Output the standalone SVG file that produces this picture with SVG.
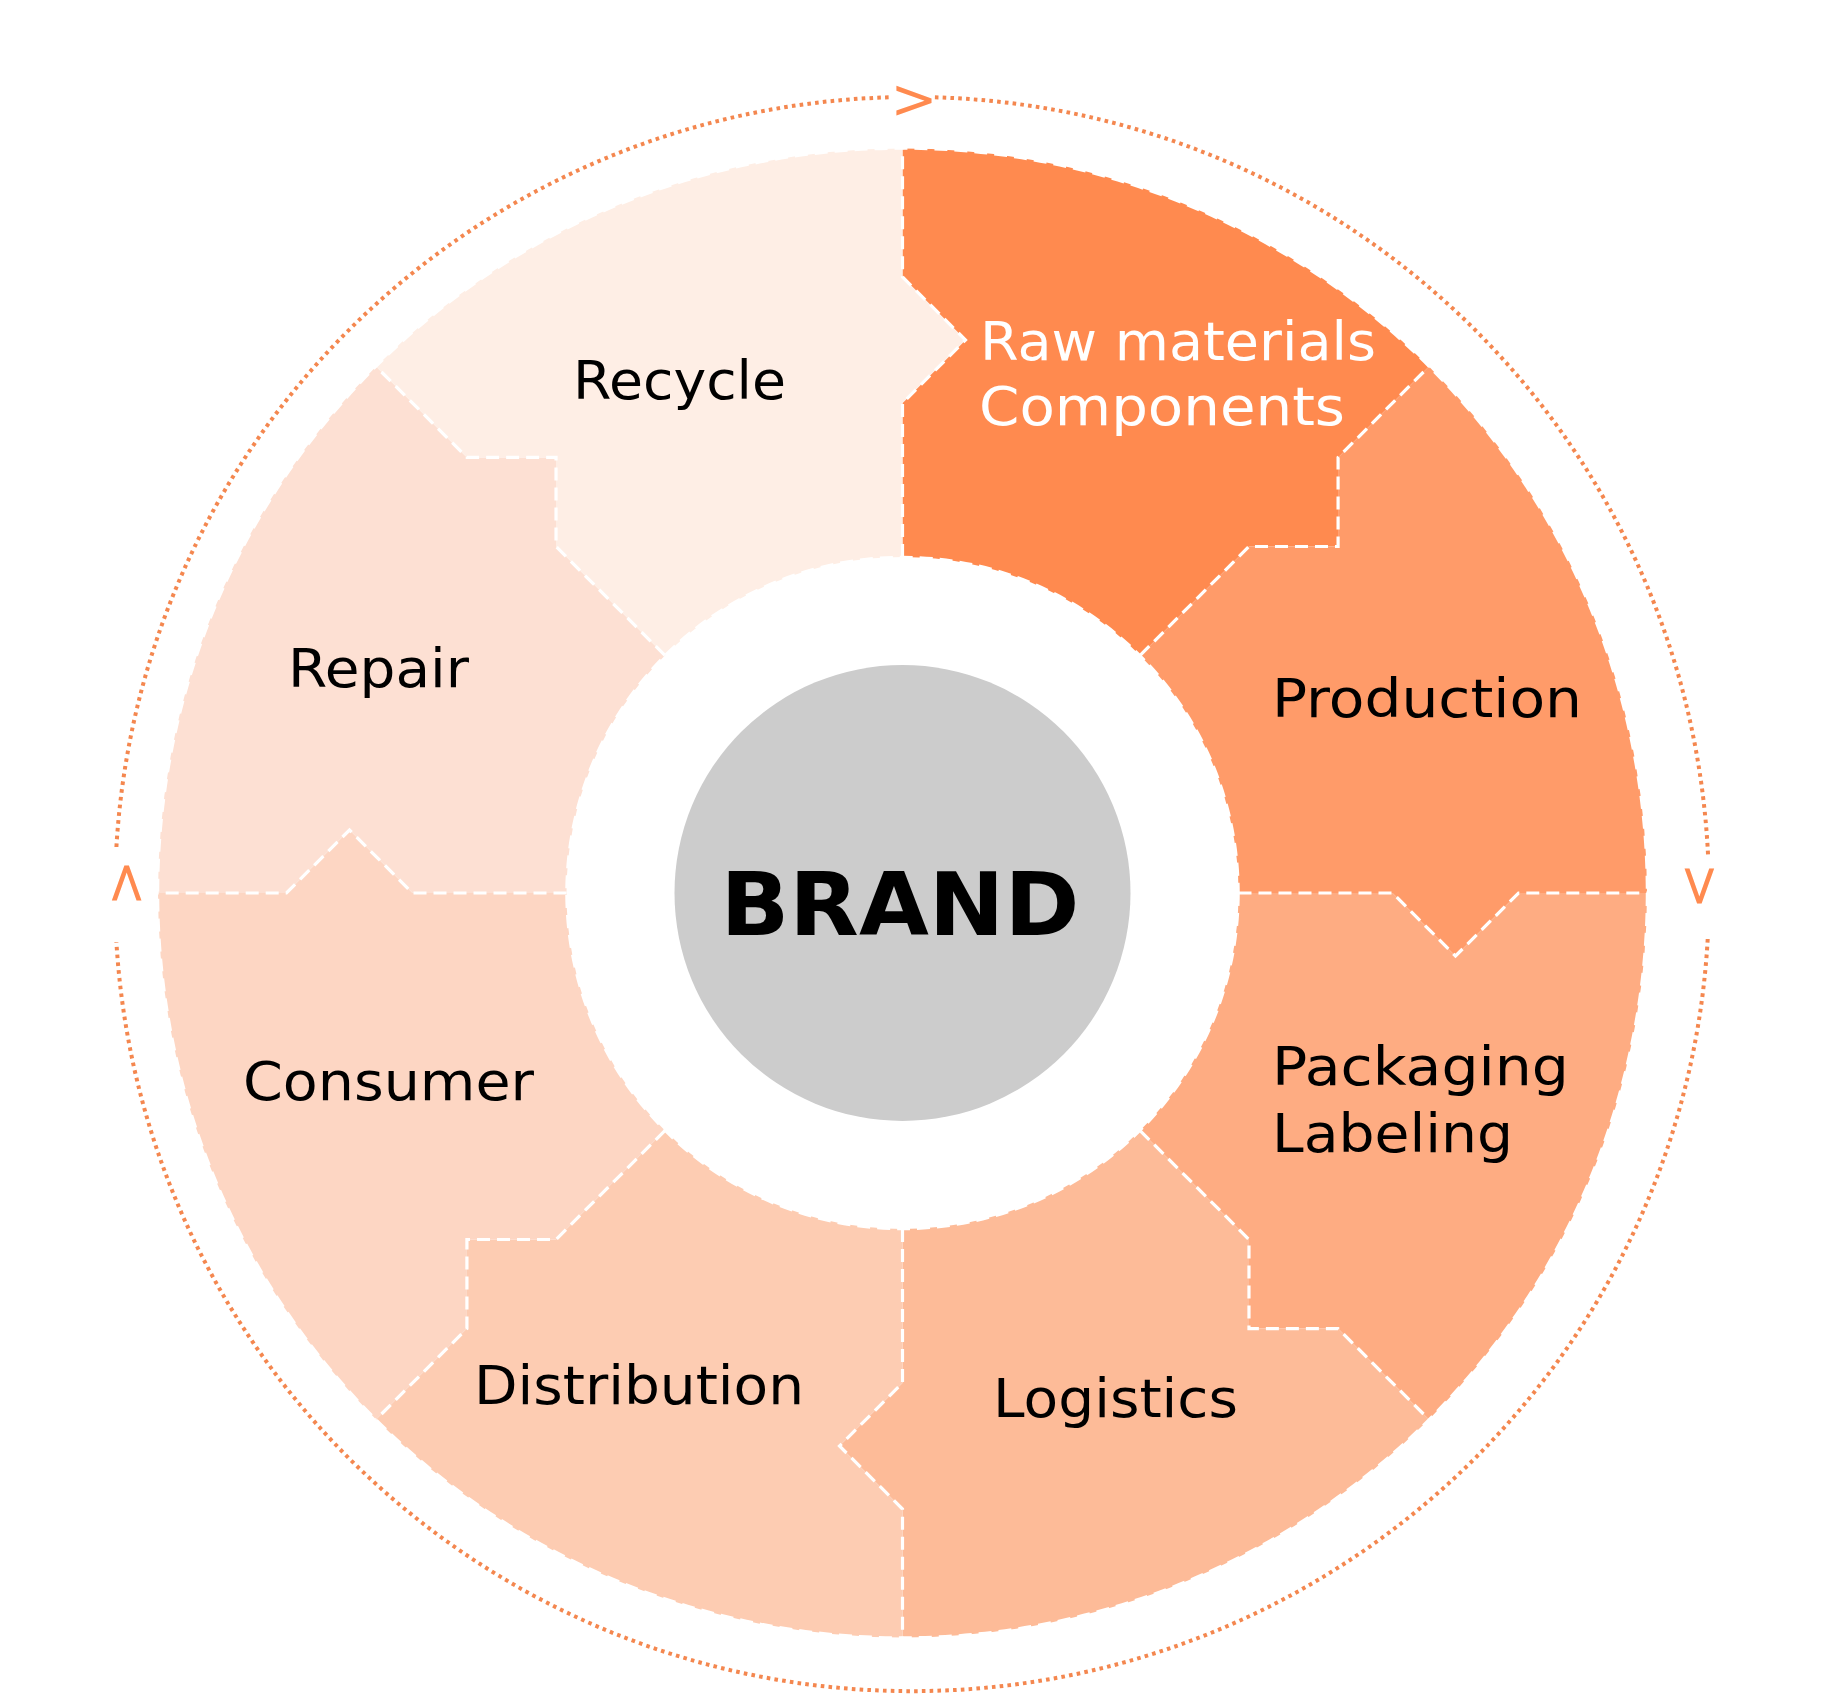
<svg xmlns="http://www.w3.org/2000/svg" width="1827" height="1695" viewBox="0 0 1827 1695">
<style>
.lbl{font-family:"DejaVu Sans","Liberation Sans",sans-serif;font-size:53px;fill:#000000;}
.wlbl{fill:#ffffff;}
.div{fill:none;stroke:#ffffff;stroke-width:3.2;stroke-dasharray:13 7;}
.edge{fill:none;stroke:#ffffff;stroke-width:2.5;stroke-dasharray:13 7;}
.ring{fill:none;stroke:#F4874F;stroke-width:4;stroke-dasharray:3.6 4.2;}
.arr{font-family:"DejaVu Sans","Liberation Sans",sans-serif;font-size:56px;fill:#FF8A4F;text-anchor:middle;}
</style>
<rect width="1827" height="1695" fill="#ffffff"/>

<g id="node-raw-materials">
<path fill="#FF8A4F" d="M902.5,148.5 L902.5,277 L965.5,340 L902.5,403 L902.5,557 A336,336 0 0 1 1140.09,655.41 L1248.98,546.52 L1338.08,546.52 L1338.08,457.42 L1428.94,366.56 A744.5,744.5 0 0 0 902.5,148.5 Z"/>
<text class="lbl wlbl" x="980" y="360" textLength="396" lengthAdjust="spacingAndGlyphs">Raw materials</text>
<text class="lbl wlbl" x="979" y="425" textLength="366" lengthAdjust="spacingAndGlyphs">Components</text>
</g>

<g id="node-production">
<path fill="#FF9B69" d="M1428.94,366.56 L1338.08,457.42 L1338.08,546.52 L1248.98,546.52 L1140.09,655.41 A336,336 0 0 1 1238.5,893 L1392.5,893 L1455.5,956 L1518.5,893 L1647,893 A744.5,744.5 0 0 0 1428.94,366.56 Z"/>
<text class="lbl" x="1272" y="717" textLength="310" lengthAdjust="spacingAndGlyphs">Production</text>
</g>

<g id="node-packaging">
<path fill="#FEAC82" d="M1647,893 L1518.5,893 L1455.5,956 L1392.5,893 L1238.5,893 A336,336 0 0 1 1140.09,1130.59 L1248.98,1239.48 L1248.98,1328.58 L1338.08,1328.58 L1428.94,1419.44 A744.5,744.5 0 0 0 1647,893 Z"/>
<text class="lbl" x="1272" y="1085" textLength="297" lengthAdjust="spacingAndGlyphs">Packaging</text>
<text class="lbl" x="1272" y="1152" textLength="241" lengthAdjust="spacingAndGlyphs">Labeling</text>
</g>

<g id="node-logistics">
<path fill="#FDBB98" d="M1428.94,1419.44 L1338.08,1328.58 L1248.98,1328.58 L1248.98,1239.48 L1140.09,1130.59 A336,336 0 0 1 902.5,1229 L902.5,1383 L839.5,1446 L902.5,1509 L902.5,1637.5 A744.5,744.5 0 0 0 1428.94,1419.44 Z"/>
<text class="lbl" x="993" y="1417" textLength="245" lengthAdjust="spacingAndGlyphs">Logistics</text>
</g>

<g id="node-distribution">
<path fill="#FDCCB2" d="M902.5,1637.5 L902.5,1509 L839.5,1446 L902.5,1383 L902.5,1229 A336,336 0 0 1 664.91,1130.59 L556.02,1239.48 L466.92,1239.48 L466.92,1328.58 L376.06,1419.44 A744.5,744.5 0 0 0 902.5,1637.5 Z"/>
<text class="lbl" x="474" y="1404" textLength="330" lengthAdjust="spacingAndGlyphs">Distribution</text>
</g>

<g id="node-consumer">
<path fill="#FDD6C3" d="M376.06,1419.44 L466.92,1328.58 L466.92,1239.48 L556.02,1239.48 L664.91,1130.59 A336,336 0 0 1 566.5,893 L412.5,893 L349.5,830 L286.5,893 L158,893 A744.5,744.5 0 0 0 376.06,1419.44 Z"/>
<text class="lbl" x="243" y="1100" textLength="291" lengthAdjust="spacingAndGlyphs">Consumer</text>
</g>

<g id="node-repair">
<path fill="#FDE0D3" d="M158,893 L286.5,893 L349.5,830 L412.5,893 L566.5,893 A336,336 0 0 1 664.91,655.41 L556.02,546.52 L556.02,457.42 L466.92,457.42 L376.06,366.56 A744.5,744.5 0 0 0 158,893 Z"/>
<text class="lbl" x="288" y="687" textLength="181" lengthAdjust="spacingAndGlyphs">Repair</text>
</g>

<g id="node-recycle">
<path fill="#FEEEE5" d="M376.06,366.56 L466.92,457.42 L556.02,457.42 L556.02,546.52 L664.91,655.41 A336,336 0 0 1 902.5,557 L902.5,403 L965.5,340 L902.5,277 L902.5,148.5 A744.5,744.5 0 0 0 376.06,366.56 Z"/>
<text class="lbl" x="573" y="399" textLength="213" lengthAdjust="spacingAndGlyphs">Recycle</text>
</g>

<g id="dividers">
<circle class="edge" cx="902.5" cy="893" r="744.5"/>
<circle class="edge" cx="902.5" cy="893" r="336"/>
<polyline class="div" points="902.5,557 902.5,403 965.5,340 902.5,277 902.5,148.5"/>
<polyline class="div" points="1140.09,655.41 1248.98,546.52 1338.08,546.52 1338.08,457.42 1428.94,366.56"/>
<polyline class="div" points="1238.5,893 1392.5,893 1455.5,956 1518.5,893 1647,893"/>
<polyline class="div" points="1140.09,1130.59 1248.98,1239.48 1248.98,1328.58 1338.08,1328.58 1428.94,1419.44"/>
<polyline class="div" points="902.5,1229 902.5,1383 839.5,1446 902.5,1509 902.5,1637.5"/>
<polyline class="div" points="664.91,1130.59 556.02,1239.48 466.92,1239.48 466.92,1328.58 376.06,1419.44"/>
<polyline class="div" points="566.5,893 412.5,893 349.5,830 286.5,893 158,893"/>
<polyline class="div" points="664.91,655.41 556.02,546.52 556.02,457.42 466.92,457.42 376.06,366.56"/>
</g>

<g id="node-brand">
<circle cx="902.5" cy="893" r="228" fill="#CCCCCC"/>
<text x="900" y="935" font-family="DejaVu Sans, Liberation Sans, sans-serif" font-size="87" font-weight="bold" fill="#000000" text-anchor="middle" textLength="359" lengthAdjust="spacingAndGlyphs">BRAND</text>
</g>

<g id="connectors">
<path class="ring" d="M934.9,97.3 A797,797 0 0 1 1708.1,856"/>
<path class="ring" d="M1707.7,939 A797,797 0 0 1 116.4,942"/>
<path class="ring" d="M116.4,847 A797,797 0 0 1 890,97.3"/>
<text class="arr" x="914" y="117.5">&gt;</text>
<text class="arr" transform="translate(1702 886) rotate(90)" x="0" y="20">&gt;</text>
<text class="arr" transform="translate(124 883) rotate(-90)" x="0" y="20">&gt;</text>
</g>
</svg>
